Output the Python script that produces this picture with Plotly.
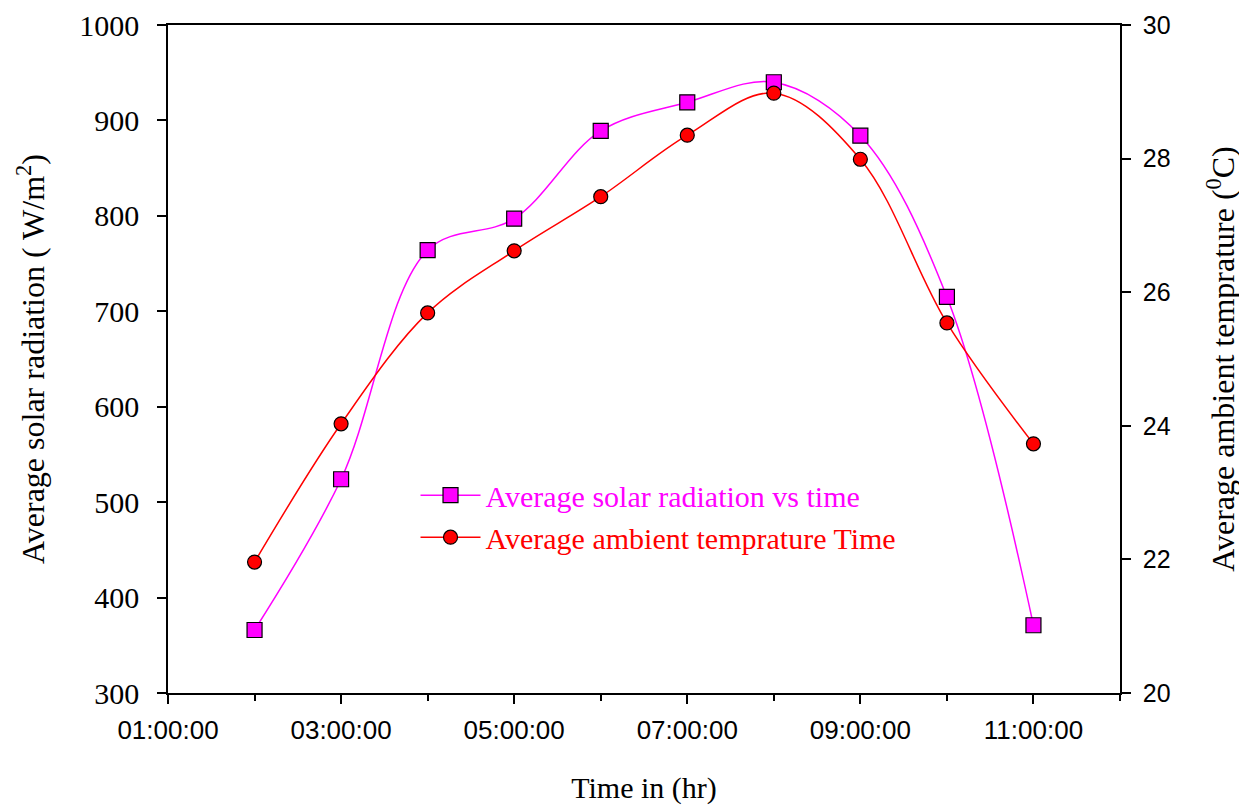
import plotly.graph_objects as go

times = ["02:00:00", "03:00:00", "04:00:00", "05:00:00", "06:00:00",
         "07:00:00", "08:00:00", "09:00:00", "10:00:00", "11:00:00"]
solar = [366, 524, 764, 797, 889, 919, 940, 884, 715, 371]
temp = [21.96, 24.03, 25.69, 26.62, 27.43, 28.35, 28.98, 27.99, 25.54, 23.73]
day = "2024-01-01 "
x = [day + t for t in times]

fig = go.Figure()
fig.add_trace(go.Scatter(
    x=x, y=solar,
    name="<span style='color:#FF00FF'>Average solar radiation vs time</span>",
    mode="lines+markers", line=dict(color="#FF00FF", width=1.5, shape="spline", smoothing=1.0),
    marker=dict(symbol="square", size=15, color="#FF00FF", line=dict(color="black", width=1.2)),
))
fig.add_trace(go.Scatter(
    x=x, y=temp,
    name="<span style='color:#FF0000'>Average ambient temprature Time</span>",
    yaxis="y2",
    mode="lines+markers", line=dict(color="#FF0000", width=1.5, shape="spline", smoothing=1.0),
    marker=dict(symbol="circle", size=14, color="#FF0000", line=dict(color="black", width=1.2)),
))

serif = "Liberation Serif, Times New Roman, serif"
sans = "Liberation Sans, Arial, sans-serif"

fig.update_layout(
    width=1239, height=797,
    margin=dict(l=160, r=127, t=17, b=112, autoexpand=False),
    paper_bgcolor="white", plot_bgcolor="white",
    showlegend=True,
    legend=dict(x=0.26, y=0.335, xanchor="left", yanchor="top",
                bgcolor="rgba(0,0,0,0)", font=dict(family=serif, size=30),
                itemwidth=60, tracegroupgap=0),
    xaxis=dict(
        type="date", automargin=False,
        range=[day + "01:00:00", day + "12:00:00"],
        tick0=day + "01:00:00", dtick=2 * 3600 * 1000,
        tickformat="%H:%M:%S",
        ticks="outside", ticklen=9, tickwidth=1.5, tickcolor="black",
        minor=dict(dtick=3600 * 1000, ticks="outside", ticklen=6, tickwidth=1.5, tickcolor="black"),
        showline=True, linecolor="black", linewidth=1.5, mirror=True,
        showgrid=False, zeroline=False,
        ticklabelstandoff=4,
        tickfont=dict(family=sans, size=26, color="black"),
        title=dict(text="Time in (hr)", font=dict(family=serif, size=30, color="black"), standoff=36),
    ),
    yaxis=dict(
        range=[300, 1000], dtick=100, automargin=False,
        ticks="outside", ticklen=9, tickwidth=1.5, tickcolor="black",
        showline=True, linecolor="black", linewidth=1.5,
        showgrid=False, zeroline=False,
        ticklabelstandoff=12,
        tickfont=dict(family=serif, size=30, color="black"),
        title=dict(text="Average solar radiation ( W/m<sup>2</sup>)",
                   font=dict(family=serif, size=32, color="black"), standoff=25),
    ),
    yaxis2=dict(
        range=[20, 30], dtick=2, overlaying="y", side="right", automargin=False,
        ticks="outside", ticklen=9, tickwidth=1.5, tickcolor="black",
        showline=True, linecolor="black", linewidth=1.5,
        showgrid=False, zeroline=False,
        ticklabelstandoff=7,
        tickfont=dict(family=sans, size=25, color="black"),
        title=dict(text="Average ambient temprature (<sup>0</sup>C)",
                   font=dict(family=serif, size=32, color="black"), standoff=42),
    ),
)

fig.write_html("out.html")
